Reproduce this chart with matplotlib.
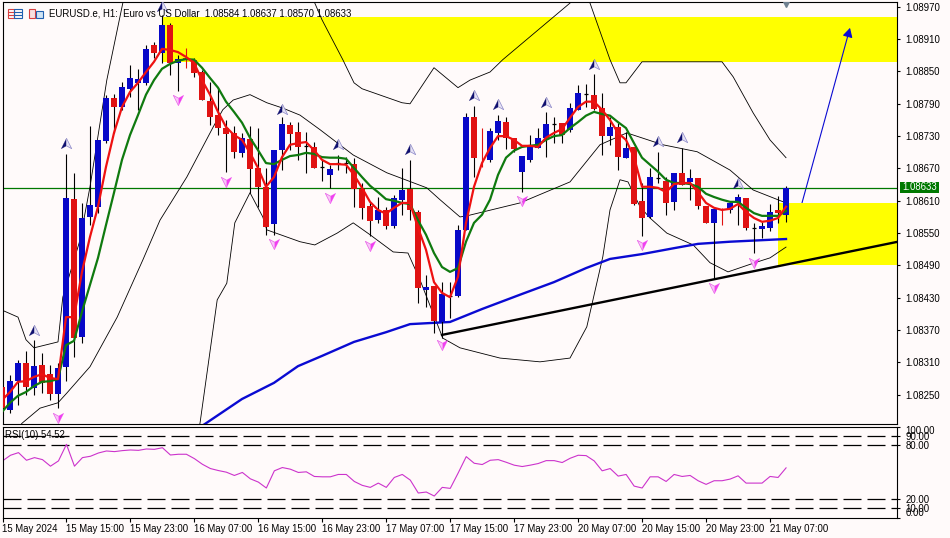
import numpy as np
from matplotlib import pyplot as plt
from matplotlib.patches import Rectangle

plt.rcParams['font.family'] = ['Liberation Sans', 'DejaVu Sans']

# prices are kept in points, 1e-5
highs = [108277,108287,108315,108331,108352,108327,108305,108309,108697,108662,
         108606,108749,108723,108807,108808,108831,108862,108855,108899,108905,
         108955,108940,108881,108894,108875,108853,108831,108820,108760,108749,
         108736,108749,108745,108671,108704,108766,108756,108756,108738,108719,
         108686,108677,108695,108691,108690,108643,108608,108617,108599,108621,
         108671,108686,108593,108472,108452,108459,108459,108565,108773,108786,
         108745,108745,108769,108766,108727,108693,108732,108745,108775,108766,
         108755,108792,108825,108827,108846,108810,108766,108755,108738,108710,
         108643,108671,108701,108654,108662,108708,108669,108653,108600,108595,
         108597,108606,108623,108615,108569,108571,108604,108619,108637]
lows = [108218,108216,108231,108249,108249,108253,108240,108225,108275,108320,
        108346,108565,108587,108717,108736,108779,108803,108779,108825,108875,
        108866,108844,108814,108857,108840,108797,108751,108732,108664,108690,
        108691,108625,108599,108547,108547,108667,108704,108686,108662,108671,
        108647,108634,108667,108662,108599,108576,108545,108569,108558,108560,
        108584,108574,108420,108413,108365,108355,108392,108431,108556,108654,
        108673,108682,108723,108706,108701,108626,108682,108708,108691,108717,
        108717,108738,108779,108784,108779,108695,108714,108667,108690,108602,
        108545,108578,108643,108584,108593,108639,108612,108595,108569,108467,
        108565,108587,108565,108556,108513,108541,108554,108569,108570]
opens = [108264,108222,108275,108309,108262,108305,108288,108251,108302,108613,
         108357,108580,108599,108721,108801,108784,108818,108829,108829,108899,
         108885,108937,108866,108875,108872,108849,108795,108769,108745,108736,
         108699,108725,108671,108636,108567,108704,108751,108738,108712,108710,
         108673,108658,108680,108680,108678,108632,108600,108574,108593,108563,
         108612,108632,108589,108444,108452,108385,108433,108433,108556,108766,
         108688,108686,108736,108756,108727,108664,108686,108708,108727,108753,
         108755,108742,108779,108808,108807,108782,108730,108747,108690,108710,
         108610,108580,108653,108647,108608,108662,108645,108653,108600,108569,
         108595,108593,108606,108615,108560,108558,108560,108593,108584]
closes = [108225,108275,108309,108264,108303,108272,108251,108300,108615,108355,
          108578,108602,108723,108801,108784,108821,108838,108836,108892,108885,
          108937,108866,108873,108872,108847,108797,108766,108745,108734,108701,
          108727,108669,108636,108561,108704,108753,108734,108710,108712,108671,
          108673,108669,108680,108680,108632,108597,108573,108593,108563,108615,
          108630,108593,108448,108450,108387,108437,108433,108556,108766,108690,
          108687,108740,108758,108727,108706,108693,108710,108727,108753,108753,
          108732,108782,108810,108808,108781,108730,108747,108691,108708,108604,
          108578,108654,108653,108606,108662,108639,108653,108600,108569,108595,
          108593,108606,108617,108560,108560,108563,108589,108587,108633]

ma_fast = [108240,108255,108274,108275,108283,108288,108281,108279,108394,108394,
           108478,108543,108599,108673,108736,108784,108812,108829,108849,108868,
           108892,108890,108886,108877,108866,108834,108807,108775,108747,108732,
           108723,108699,108671,108636,108654,108691,108714,108717,108719,108704,
           108686,108678,108678,108677,108658,108634,108608,108593,108586,108597,
           108606,108606,108560,108519,108459,108439,108431,108469,108569,108636,
           108680,108708,108730,108730,108723,108712,108712,108710,108727,108736,
           108743,108764,108784,108794,108794,108779,108760,108736,108723,108691,
           108636,108636,108634,108626,108641,108643,108643,108626,108606,108597,
           108593,108595,108604,108589,108578,108571,108573,108578,108599]
ma_slow = [108218,108235,108248,108255,108266,108274,108275,108279,108342,108350,
           108404,108454,108504,108565,108625,108686,108732,108769,108807,108834,
           108855,108864,108870,108873,108872,108857,108838,108820,108794,108775,
           108755,108727,108704,108680,108678,108686,108693,108695,108699,108697,
           108691,108690,108690,108688,108671,108654,108638,108626,108613,108610,
           108606,108604,108574,108547,108513,108487,108478,108485,108534,108569,
           108584,108612,108658,108690,108703,108710,108712,108714,108723,108730,
           108732,108745,108756,108768,108775,108771,108768,108756,108745,108717,
           108690,108677,108664,108649,108643,108643,108641,108636,108623,108617,
           108612,108608,108608,108597,108587,108582,108582,108582,108591]

ma_long_x = [25,30,34,37,40,44,48,51,56,60,65,69,73,76,80,84,87,91,98]
ma_long = [108192,108242,108272,108303,108322,108348,108366,108381,108385,108409,
           108437,108459,108485,108502,108511,108522,108530,108534,108539]

band_up_x = [0,2,3,4,7,7.6,9.75,11,13.1,15.1,18,22,30,36,39.1,40,42.6,44,45,50,51,54,57,58.5,
             61,62.6,71,72.25,73.5,76,77.25,78,80,82.25,90,91.4,93.9,96,98]
band_up = [108407,108394,108352,108337,108348,108431,108537,108636,108834,108977,109094,109113,
           109113,109057,108977,108946,108872,108829,108818,108792,108790,108857,108820,108834,
           108849,108872,108977,109002,108977,108872,108829,108829,108868,108868,108868,108840,
           108773,108723,108690]
band_mid_x = [1,2.5,4.75,7,8.1,11,14.4,17.6,19.75,23.1,26.4,27.6,28.9,31,33.1,35.1,37.25,39.75,
              43.9,48.1,53.1,54.75,57.25,58.1,64.75,71,74.75,78.1,82.6,86.9,91,93.9,98]
band_mid = [108166,108197,108225,108235,108253,108302,108394,108500,108574,108654,108747,108779,
            108797,108807,108792,108782,108769,108742,108695,108662,108634,108612,108580,108582,
            108606,108645,108714,108736,108714,108701,108667,108630,108606]
band_low_x = [24.1,24.75,26.9,28.1,29.1,31,32.6,33.1,37.25,39.1,41.9,43.9,46,48.9,50.75,52.25,
              55.1,57.25,62.25,67.25,71,73.1,75.1,76,77.25,78.25,79.75,81,83.1,86.4,88.5,90.75,
              94.1,96,98]
band_low = [108166,108197,108426,108457,108569,108625,108580,108556,108534,108528,108550,108569,
            108547,108515,108513,108463,108355,108337,108318,108311,108318,108376,108506,108593,
            108649,108645,108599,108578,108550,108528,108495,108478,108495,108504,108524]

frac_up_x = [4,8,20,35,42,51,59,62,68,74,82,85,92]
frac_up = [108370,108717,108972,108781,108716,108706,108807,108790,108794,108864,108721,108729,108643]
frac_dn_x = [7,22,28,34,41,46,55,65,80,89,94]
frac_dn = [108207,108797,108645,108530,108615,108526,108342,108610,108528,108448,108495]

rsi = [62.2,68.4,71.3,62.9,65.8,63.6,56.4,62.2,80.4,56.4,65.8,67.3,70.9,73.1,72.4,73.5,74.2,73.8,
       75.3,74.9,76.7,68.7,69.5,69.5,64.7,58.5,53.8,51.6,49.8,46.2,49.5,42.5,38.9,32.4,51.3,54.9,
       53.1,49.5,50.2,45.1,44.7,44.7,47.3,47.3,39.6,35.3,33.1,37.8,33.1,44.0,47.3,41.1,26.9,28.0,
       23.6,33.1,32.0,49.1,66.9,59.6,58.2,62.9,63.6,60.7,57.5,56.0,57.5,59.3,62.5,62.5,60.4,65.1,
       68.4,68.0,62.2,51.3,53.8,45.5,47.3,34.5,32.4,44.7,44.7,39.6,47.3,45.1,46.2,40.4,36.4,40.4,
       40.4,42.2,45.8,37.8,37.8,37.8,45.1,44.0,54.52]
rsi_levels = [90, 80, 20, 10]
rsi_ticks = [100, 90, 80, 20, 10, 0]

price_ticks = [108970,108910,108850,108790,108730,108670,108610,108550,108490,108430,108370,108310,108250]
time_ticks = [0,8,16,24,32,40,48,56,64,72,80,88,96]
time_labels = ['15 May 2024','15 May 15:00','15 May 23:00','16 May 07:00','16 May 15:00','16 May 23:00',
               '17 May 07:00','17 May 15:00','17 May 23:00','20 May 07:00','20 May 15:00','20 May 23:00',
               '21 May 07:00']
last_price = 108633

zone_top = [20, 108952, 108867]
zone_low = [97, 108606, 108491]
trend_x = [55, 112]
trend_y = [108361, 108534]
arrow_x = [100, 106]
arrow_y = [108606, 108931]

bg = '#FFFAFA'
w, h = 950, 538
fsize = 6.9

fig = plt.figure(figsize=(w/100, h/100), dpi=100, facecolor=bg)

def rect(l, t, r, b):
    return [l/w, 1-b/h, (r-l)/w, (b-t)/h]

ax = fig.add_axes(rect(2.5, 2, 897, 424), facecolor=bg)
ax2 = fig.add_axes(rect(2.5, 426.5, 897, 517.5), facecolor=bg)

# index 0 sits at pixel 2, one bar is 8 pixels
x0 = (2.5-2)/8
x1 = (897-2)/8
ax.set_xlim(x0, x1)
ax.set_ylim(108195.6, 108979)
ax2.set_xlim(x0, x1)
ax2.set_ylim(0, 99.7)

x = np.arange(len(closes))
o = np.array(opens)
c = np.array(closes)
hi = np.array(highs)
lo = np.array(lows)

ax.add_patch(Rectangle((zone_top[0], zone_top[2]), 200, zone_top[1]-zone_top[2], color='#FFFF00', lw=0, zorder=1))
ax.add_patch(Rectangle((zone_low[0], zone_low[2]), 200, zone_low[1]-zone_low[2], color='#FFFF00', lw=0, zorder=1.3))
ax.axhline(last_price, color='#007800', lw=0.9, zorder=1.5)

ax.plot(band_up_x, band_up, color='black', lw=0.6, zorder=2)
ax.plot(band_mid_x, band_mid, color='black', lw=0.6, zorder=2)
ax.plot(band_low_x, band_low, color='black', lw=0.6, zorder=2)
ax.plot(ma_long_x, ma_long, color='#0A0AD2', lw=1.7, zorder=2.5)
ax.plot(trend_x, trend_y, color='black', lw=1.7, zorder=2.5)
ax.annotate('', xy=(arrow_x[1], arrow_y[1]), xytext=(arrow_x[0], arrow_y[0]), zorder=1.2,
            arrowprops=dict(arrowstyle='-|>,head_length=0.55,head_width=0.3', color='#0A0AD2', lw=0.8,
                            shrinkA=0, shrinkB=0))

up = c > o
dn = c < o
flat = c == o
thin = dn & (np.abs(c-o) <= 3)
ax.vlines(x[thin], lo[thin], hi[thin], color='#E01010', lw=0.8, zorder=3)
ax.vlines(x[~thin], lo[~thin], hi[~thin], color='black', lw=0.8, zorder=3)
ax.bar(x[up], (c-o)[up], bottom=o[up], width=0.7, color='#0808C8', lw=0, zorder=3.2)
ax.bar(x[dn], (o-c)[dn], bottom=c[dn], width=0.7, color='#E01212', lw=0, zorder=3.2)
ax.hlines(c[flat], x[flat]-0.31, x[flat]+0.31, color='black', lw=0.9, zorder=3.2)

ax.plot(x, ma_slow, color='#0F7A0F', lw=1.6, zorder=4)
ax.plot(x, ma_fast, color='#EE1111', lw=1.6, zorder=4.2)

# fractal arrows, two halves of a dart
ax.plot(frac_up_x, frac_up, ls='', marker=[(0, 1), (-1, -1), (0, -0.45)], ms=7.5, mfc='#101070', mec='#101070', mew=0.2, zorder=5)
ax.plot(frac_up_x, frac_up, ls='', marker=[(0, 1), (1, -1), (0, -0.45)], ms=7.5, mfc='#E6E2F5', mec='#8C88C8', mew=0.5, zorder=5)
ax.plot(frac_dn_x, frac_dn, ls='', marker=[(0, -1), (-1, 1), (0, 0.45)], ms=7.5, mfc='#F8C8F8', mec='#E860E8', mew=0.5, zorder=5)
ax.plot(frac_dn_x, frac_dn, ls='', marker=[(0, -1), (1, 1), (0, 0.45)], ms=7.5, mfc='#F040F0', mec='#F040F0', mew=0.2, zorder=5)
ax.plot([98], [108976], ls='', marker='v', ms=5, color='#708090', zorder=5)

ax.yaxis.tick_right()
ax.set_yticks(price_ticks)
ax.set_yticklabels(['%.5f' % (p/1e5) for p in price_ticks], fontsize=fsize)
ax.set_xticks([])
ax.tick_params(axis='y', length=2.5, width=0.8, pad=3.5)

for lv in rsi_levels:
    ax2.axhline(lv, color='black', lw=0.9, dashes=(18/1.25, 6/1.25), zorder=1)
ax2.plot(x, rsi, color='#CC33CC', lw=0.8, zorder=2)
ax2.yaxis.tick_right()
ax2.set_yticks(rsi_ticks)
ax2.set_yticklabels(['%.2f' % v for v in rsi_ticks], fontsize=fsize)
labs = ax2.get_yticklabels()
labs[0].set_verticalalignment('top')
labs[-1].set_verticalalignment('bottom')
ax2.set_xticks(time_ticks)
ax2.set_xticklabels(time_labels, fontsize=fsize, ha='left')
ax2.tick_params(axis='y', length=2.5, width=0.8, pad=3.5)
ax2.tick_params(axis='x', length=3, width=0.8, pad=1.5)

for a in [ax, ax2]:
    for s in a.spines.values():
        s.set_linewidth(0.8)

# header and tag are placed in pixels on a full size overlay
top = fig.add_axes([0, 0, 1, 1], facecolor='none', zorder=10)
top.set_xlim(0, w)
top.set_ylim(h, 0)
top.axis('off')
top.text(49, 13.5, 'EURUSD.e, H1:  Euro vs US Dollar  1.08584 1.08637 1.08570 1.08633', fontsize=fsize, va='center')
top.text(5, 435, 'RSI(10) 54.52', fontsize=fsize, va='center')
top.add_patch(Rectangle((900, 182), 39, 10.5, color='#007800', lw=0))
top.text(919.5, 187.3, '1.08633', fontsize=fsize, color='white', va='center', ha='center')

top.add_patch(Rectangle((7.5, 8.5), 6.5, 9, fc='none', ec='#D84040', lw=0.8))
top.add_patch(Rectangle((14, 8.5), 7.5, 9, fc='none', ec='#2060B0', lw=0.8))
for yy in [11.5, 14.5]:
    top.plot([8, 14], [yy, yy], color='#D84040', lw=0.8)
    top.plot([14, 21], [yy, yy], color='#2060B0', lw=0.8)
top.add_patch(Rectangle((28.5, 8.5), 6.5, 9, fc='#F8E0E0', ec='#D84040', lw=0.8))
top.add_patch(Rectangle((36, 10.5), 6.5, 7, fc='#D0E4F4', ec='#2060B0', lw=0.8))

fig.savefig('out.png', dpi=100, facecolor=bg)
